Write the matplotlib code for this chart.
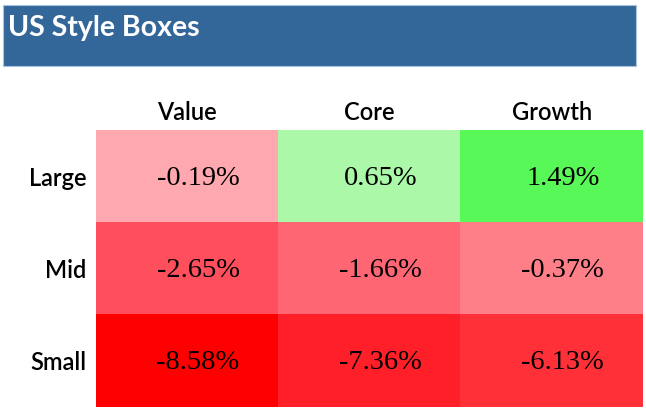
import numpy as np
import matplotlib
matplotlib.use("Agg")
import matplotlib.pyplot as plt
from matplotlib.colors import to_rgb
from matplotlib.patches import Rectangle

# data
title = "US Style Boxes"
styles = ["Value", "Core", "Growth"]
sizes = ["Large", "Mid", "Small"]
returns = [
    [-0.19, 0.65, 1.49],
    [-2.65, -1.66, -0.37],
    [-8.58, -7.36, -6.13],
]
cell_colors = [
    ["#FFA8B0", "#AAF8A8", "#58F858"],
    ["#FF4F5C", "#FF6674", "#FF7F89"],
    ["#FF0000", "#FF1F28", "#FF3038"],
]

W, H = 646, 411
fig = plt.figure(figsize=(W / 100, H / 100), dpi=100)

# title banner
fig.patches.append(Rectangle((3 / W, 1 - 66 / H), 633 / W, 61 / H,
                             transform=fig.transFigure, facecolor="#336699",
                             edgecolor="#A9C4E0", linewidth=0.8, zorder=0))
fig.text(8 / W, 1 - 28 / H, title, color="white", fontsize=20.5,
         fontweight="bold", family="Lato", va="center", ha="left")

# heat-map grid
ax = fig.add_axes([96 / W, 4 / H, 547 / W, 277 / H])
rgb = np.array([[to_rgb(c) for c in row] for row in cell_colors])
ax.imshow(rgb, aspect="auto", extent=(0, 3, 3, 0), interpolation="nearest")
ax.set_xlim(0, 3)
ax.set_ylim(3, 0)
for i, row in enumerate(returns):
    for j, v in enumerate(row):
        ax.text(j + 0.56, i + 0.52, f"{v:.2f}%", ha="center", va="center",
                fontsize=20.5, family="Liberation Serif", color="black")

ax.xaxis.tick_top()
ax.set_xticks(np.arange(3) + 0.5)
ax.set_xticklabels(styles, family="Lato", fontsize=17, fontweight="semibold")
ax.set_yticks(np.arange(3) + 0.5)
ax.set_yticklabels(sizes, family="Lato", fontsize=17, fontweight="semibold")
ax.tick_params(axis="x", length=0, pad=4)
ax.tick_params(axis="y", length=0, pad=7)
for s in ax.spines.values():
    s.set_visible(False)

fig.savefig("out.png", dpi=100)
